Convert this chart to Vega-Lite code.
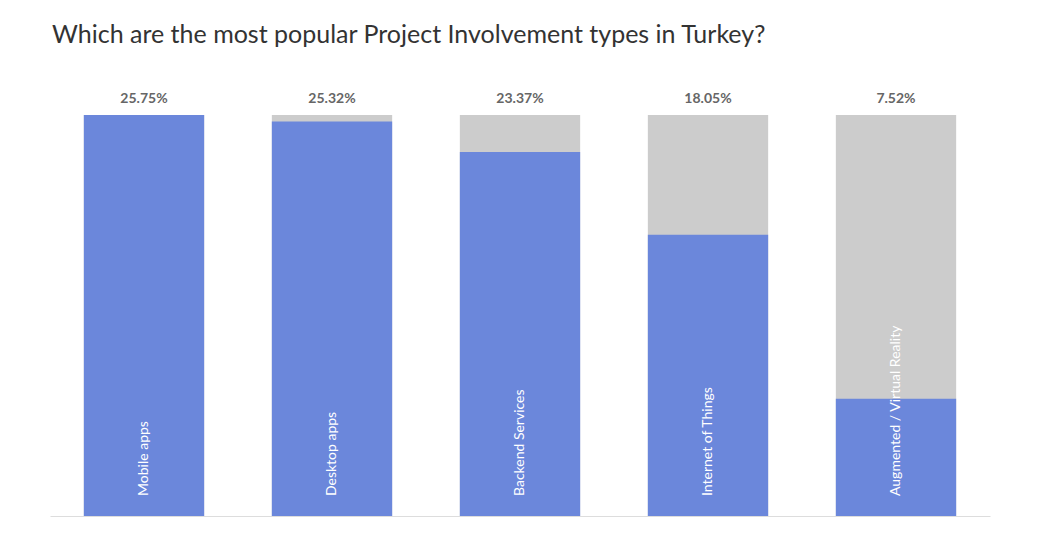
{
"$schema":"https://vega.github.io/schema/vega-lite/v6.json",
"width":940,"height":405,
"padding":{"left":50,"top":22,"right":10,"bottom":10},
"background":"white",
"title":{"text":"Which are the most popular Project Involvement types in Turkey?","anchor":"start","font":"Lato","fontSize":25,"fontWeight":"normal","color":"#333333","offset":44,"frame":"bounds","dx":2},
"data":{"values":[
{"type":"Mobile apps","value":25.75,"max":25.75,"label":"25.75%"},
{"type":"Desktop apps","value":25.32,"max":25.75,"label":"25.32%"},
{"type":"Backend Services","value":23.37,"max":25.75,"label":"23.37%"},
{"type":"Internet of Things","value":18.05,"max":25.75,"label":"18.05%"},
{"type":"Augmented / Virtual Reality","value":7.52,"max":25.75,"label":"7.52%"}
]},
"encoding":{"x":{"field":"type","type":"nominal","sort":null,"scale":{"paddingInner":0.36,"paddingOuter":0.18},"axis":{"title":null,"labels":false,"ticks":false,"domainColor":"#dddddd"}}},
"layer":[
{"mark":{"type":"bar","color":"#cccccc"},"encoding":{"y":{"field":"max","type":"quantitative","scale":{"domain":[0,25.75]},"axis":null}}},
{"mark":{"type":"bar","color":"#6b87db"},"encoding":{"y":{"field":"value","type":"quantitative"}}},
{"mark":{"type":"text","font":"Lato","fontSize":14,"fontWeight":"bold","color":"#666666","baseline":"bottom","dy":-9},"encoding":{"y":{"field":"max","type":"quantitative"},"text":{"field":"label"}}},
{"mark":{"type":"text","font":"Lato","fontSize":14,"color":"white","angle":-90,"align":"left","baseline":"middle","dx":20},"encoding":{"y":{"datum":0,"type":"quantitative"},"text":{"field":"type"}}}
],
"config":{"view":{"stroke":null}}
}
